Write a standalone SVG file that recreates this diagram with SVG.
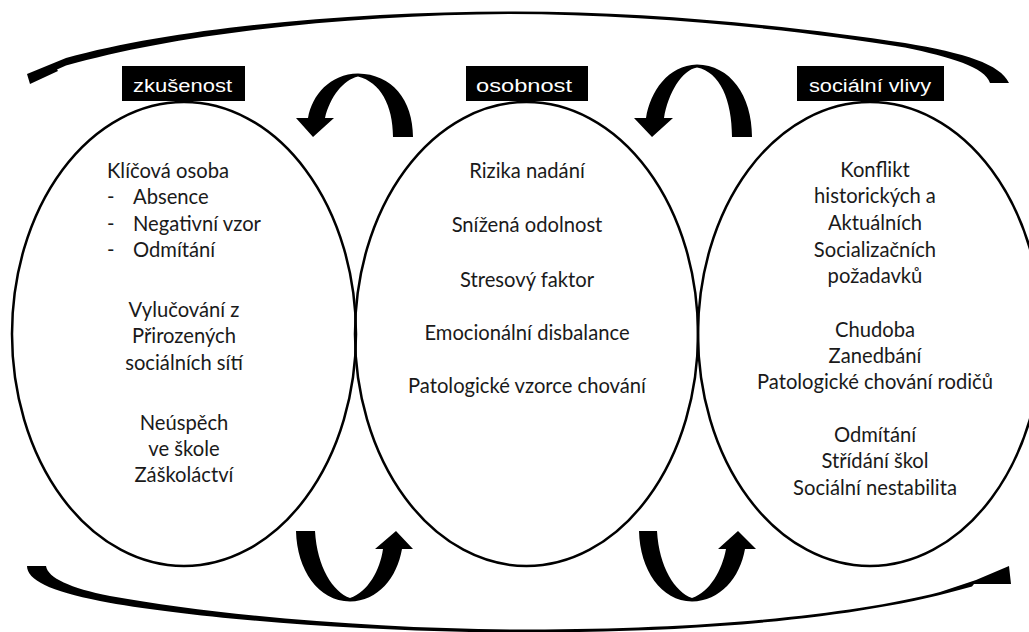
<svg xmlns="http://www.w3.org/2000/svg" width="1029" height="632" viewBox="0 0 1029 632">
<style>
.ell{fill:none;stroke:#000;stroke-width:2.5}
.lbl{fill:#000}
.lt{fill:#fff;font-family:"Liberation Sans",Arial,sans-serif;font-size:18px;text-anchor:middle}
.t{fill:#1a1a1a;font-family:"Lato","Liberation Sans",sans-serif;font-size:20.2px;text-anchor:middle}
.tl{text-anchor:start}
.arr{fill:#000}
</style>
<g id="node-zkusenost">
<ellipse class="ell" cx="184" cy="334" rx="172" ry="232"/>
<text class="t tl" x="107" y="178">Klíčová osoba</text>
<text class="t tl" x="107" y="204">-</text><text class="t tl" x="133" y="204">Absence</text>
<text class="t tl" x="107" y="231">-</text><text class="t tl" x="133" y="231">Negativní vzor</text>
<text class="t tl" x="107" y="257">-</text><text class="t tl" x="133" y="257">Odmítání</text>
<text class="t" x="184" y="317">Vylučování z</text>
<text class="t" x="184" y="343">Přirozených</text>
<text class="t" x="184" y="370">sociálních sítí</text>
<text class="t" x="184" y="430">Neúspěch</text>
<text class="t" x="184" y="456">ve škole</text>
<text class="t" x="184" y="482">Záškoláctví</text>
</g>
<g id="node-osobnost">
<ellipse class="ell" cx="526.5" cy="334" rx="171.5" ry="232"/>
<text class="t" x="527" y="178">Rizika nadání</text>
<text class="t" x="527" y="232">Snížená odolnost</text>
<text class="t" x="527" y="287">Stresový faktor</text>
<text class="t" x="527" y="340">Emocionální disbalance</text>
<text class="t" x="527" y="393">Patologické vzorce chování</text>
</g>
<g id="node-socialni">
<ellipse class="ell" cx="870" cy="334" rx="172" ry="232"/>
<text class="t" x="875" y="177">Konflikt</text>
<text class="t" x="875" y="203">historických a</text>
<text class="t" x="875" y="230">Aktuálních</text>
<text class="t" x="875" y="257">Socializačních</text>
<text class="t" x="875" y="283">požadavků</text>
<text class="t" x="875" y="337">Chudoba</text>
<text class="t" x="875" y="363">Zanedbání</text>
<text class="t" x="875" y="389">Patologické chování rodičů</text>
<text class="t" x="875" y="442">Odmítání</text>
<text class="t" x="875" y="468">Střídání škol</text>
<text class="t" x="875" y="495">Sociální nestabilita</text>
</g>
<g id="label-zkusenost">
<rect class="lbl" x="122" y="66" width="123" height="35"/>
<text class="lt" x="182.5" y="92" textLength="99" lengthAdjust="spacingAndGlyphs">zkušenost</text>
</g>
<g id="label-osobnost">
<rect class="lbl" x="466" y="66" width="122" height="35"/>
<text class="lt" x="524" y="92" textLength="96" lengthAdjust="spacingAndGlyphs">osobnost</text>
</g>
<g id="label-socialni">
<rect class="lbl" x="797" y="66" width="147" height="35"/>
<text class="lt" x="870" y="92" textLength="122" lengthAdjust="spacingAndGlyphs">sociální vlivy</text>
</g>
<g id="connectors">
<path class="arr" d="M1009,83 C1000,64 965,53 905,43 C800,27 650,11 509,11.5 C350,12 180,27 66,58 L27,74 L30,84 L58,71 L57,69.5 L66,65.5 C180,33 350,15 509,14 C650,14.5 800,30 905,47.5 C950,57 985,67 990,83 Z"/>
<path class="arr" d="M27,566 L46,566 C48,578 70,588 110,596 C220,616 380,629 520,629.5 C700,630 850,615 940,592 L976,580 L1009,566 L1011,584 L974,584 L972,586.5 C860,619 700,632.5 520,632.5 C380,632.5 200,620 100,601 C50,591 27,580 27,566 Z"/>
<path class="arr" d="M413,137 C413,100 392,74 358,73.5 C330,74 312,95 308,118 L296,118 L313,137 L334,118 L325,118 C330,97 343,80 358,76.5 C380,82 393,105 393,137 Z"/>
<path class="arr" d="M752,137 C752,95 730,65 697,64.5 C668,65 650,92 646,118 L634,118 L652,137 L673,118 L664,118 C668,93 682,70 697,67.5 C720,72 732,100 732,137 Z"/>
<path class="arr" d="M296,531 L315,531 C317,567 333,592 350,598 C368,592 380,570 383,549 L375,549 L396,531 L413,549 L402,549 C397,578 378,601 350,601.5 C318,601 297,570 296,531 Z"/>
<path class="arr" d="M639,531 L657,531 C659,567 675,592 692,598 C710,592 722,570 726,549 L718,549 L738,531 L756,549 L745,549 C740,578 720,601 692,601.5 C661,601 640,570 639,531 Z"/>
</g>
</svg>
